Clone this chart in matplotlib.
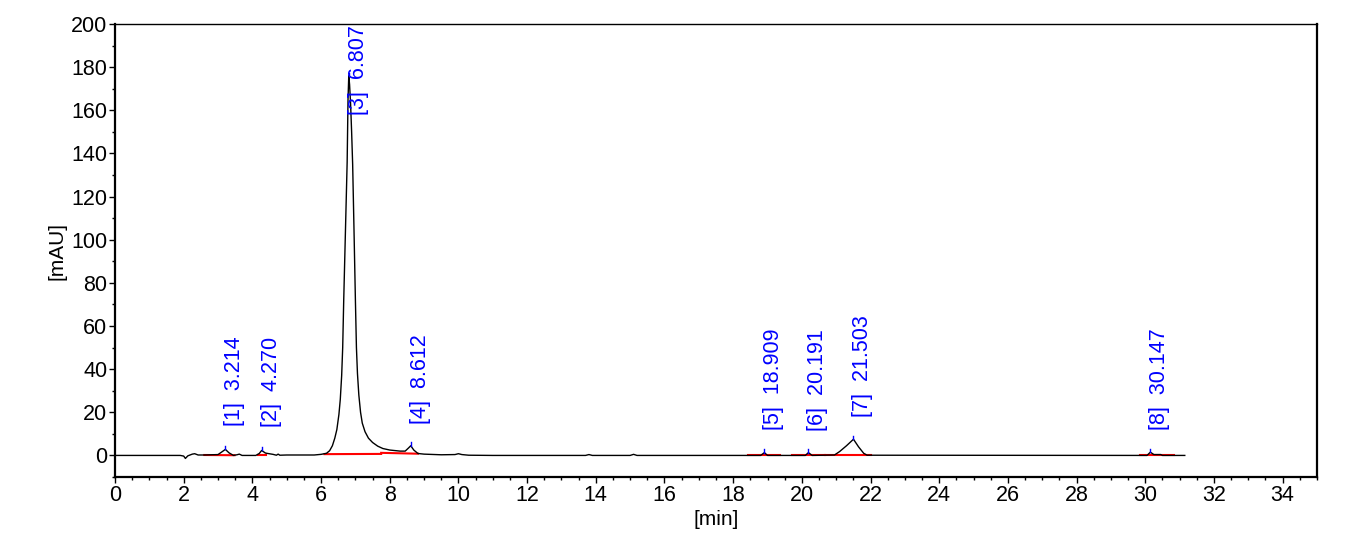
import matplotlib
matplotlib.use("Agg")
import matplotlib.pyplot as plt
from matplotlib.ticker import MultipleLocator

plt.rcParams['font.family'] = ['Liberation Sans', 'DejaVu Sans']

# Chromatogram trace: time [min], signal [mAU]
trace_t = [0.0, 1.9, 2.0, 2.05, 2.12, 2.25, 2.32, 2.42, 2.6, 3.0, 3.1, 3.214, 3.32, 3.45,
           3.55, 3.62, 3.7, 4.1, 4.2, 4.27, 4.38, 4.45, 4.6, 4.7, 4.75, 4.8, 5.0, 5.8,
           6.0, 6.16, 6.25, 6.33, 6.40, 6.46, 6.52, 6.56, 6.60, 6.63, 6.66, 6.71,
           6.76, 6.785, 6.807, 6.83, 6.86, 6.89, 6.92, 6.96, 7.0, 7.03, 7.06, 7.10,
           7.15, 7.2, 7.28, 7.38, 7.5, 7.65, 7.8, 8.0, 8.3, 8.45,
           8.55, 8.612, 8.7, 8.82, 9.0, 9.5, 9.9, 10.0, 10.1, 10.3, 11.0, 13.7, 13.8,
           13.9, 15.0, 15.1, 15.2, 18.8, 18.909, 19.0, 20.1, 20.191, 20.3, 20.95,
           21.1, 21.3, 21.503, 21.65, 21.8, 21.9, 30.05, 30.147, 30.25, 30.45, 30.5,
           31.15]
trace_v = [0.0, 0.0, -0.3, -1.4, -0.2, 0.6, 0.8, 0.2, 0.2, 0.4, 1.5, 2.8, 1.2, 0.0,
           0.3, 0.6, 0.0, 0.0, 0.9, 2.3, 1.1, 0.9, 0.5, 0.1, 0.6, 0.1, 0.2, 0.2,
           0.5, 1.0, 2.2, 4.5, 8.0, 12.0, 19.0, 26.0, 37.0, 50.0, 72.0, 104.0,
           136.0, 165.0, 176.0, 172.0, 163.0, 150.0, 135.0, 104.0, 72.0, 50.0, 38.0, 28.0,
           20.0, 15.0, 11.0, 8.0, 6.0, 4.3, 3.2, 2.5, 2.0, 2.0,
           3.5, 4.5, 2.5, 0.9, 0.6, 0.3, 0.4, 0.8, 0.4, 0.1, 0.0, 0.0, 0.4,
           0.0, 0.0, 0.5, 0.0, 0.0, 1.3, 0.0, 0.0, 1.3, 0.0, 0.2,
           1.8, 4.5, 7.5, 4.0, 1.0, 0.1, 0.0, 1.5, 0.4, 0.4, 0.0,
           0.0]

# Integration baselines (red)
base_t0 = [2.6, 4.15, 6.1, 7.75, 18.43, 19.7, 20.67, 29.86]
base_t1 = [3.48, 4.41, 7.75, 8.82, 19.36, 20.67, 22.02, 30.83]
base_v0 = [0.2, 0.3, 0.6, 1.2, 0.0, 0.0, 0.0, 0.0]
base_v1 = [0.1, 0.3, 0.7, 0.8, 0.0, 0.0, 0.0, 0.0]

# Peaks
peak_no = [1, 2, 3, 4, 5, 6, 7, 8]
peak_rt = [3.214, 4.270, 6.807, 8.612, 18.909, 20.191, 21.503, 30.147]
peak_h = [2.8, 2.3, 176.0, 4.5, 1.3, 1.3, 7.5, 1.5]
label_y = [13.5, 13.0, 157.8, 14.8, 11.6, 11.3, 17.8, 12.0]

fig = plt.figure(figsize=(13.51, 5.43), dpi=100)
ax = fig.add_axes([115/1351, 1-477/543, (1317-115)/1351, (477-24)/543])

ax.plot(trace_t, trace_v, color='black', lw=1.0, zorder=3)
for t0, t1, v0, v1 in zip(base_t0, base_t1, base_v0, base_v1):
    ax.plot([t0, t1], [v0, v1], color='red', lw=1.5, zorder=2)
for n, rt, h, ly in zip(peak_no, peak_rt, peak_h, label_y):
    ax.plot([rt, rt], [h, h + 1.5], color='blue', lw=1.0, zorder=4)
    ax.text(rt - 0.03, ly, f"[{n}]  {rt:.3f}", rotation=90, ha='left', va='bottom',
            color='blue', fontsize=15.5, zorder=5)

ax.set_xlim(0, 35)
ax.set_ylim(-10, 200)
ax.xaxis.set_major_locator(MultipleLocator(2))
ax.xaxis.set_minor_locator(MultipleLocator(0.5))
ax.yaxis.set_major_locator(MultipleLocator(20))
ax.yaxis.set_minor_locator(MultipleLocator(10))
ax.tick_params(axis='both', which='major', direction='out', length=4, width=1,
               labelsize=15.5, pad=1.5)
ax.tick_params(axis='both', which='minor', direction='out', length=2.5, width=1)
ax.set_xlabel('[min]', fontsize=15, labelpad=3)
ax.set_ylabel('[mAU]', fontsize=15, labelpad=3)

for side in ['left', 'bottom', 'right']:
    ax.spines[side].set_linewidth(1.6)
ax.spines['top'].set_linewidth(1.0)

fig.savefig('out.png', dpi=100)
